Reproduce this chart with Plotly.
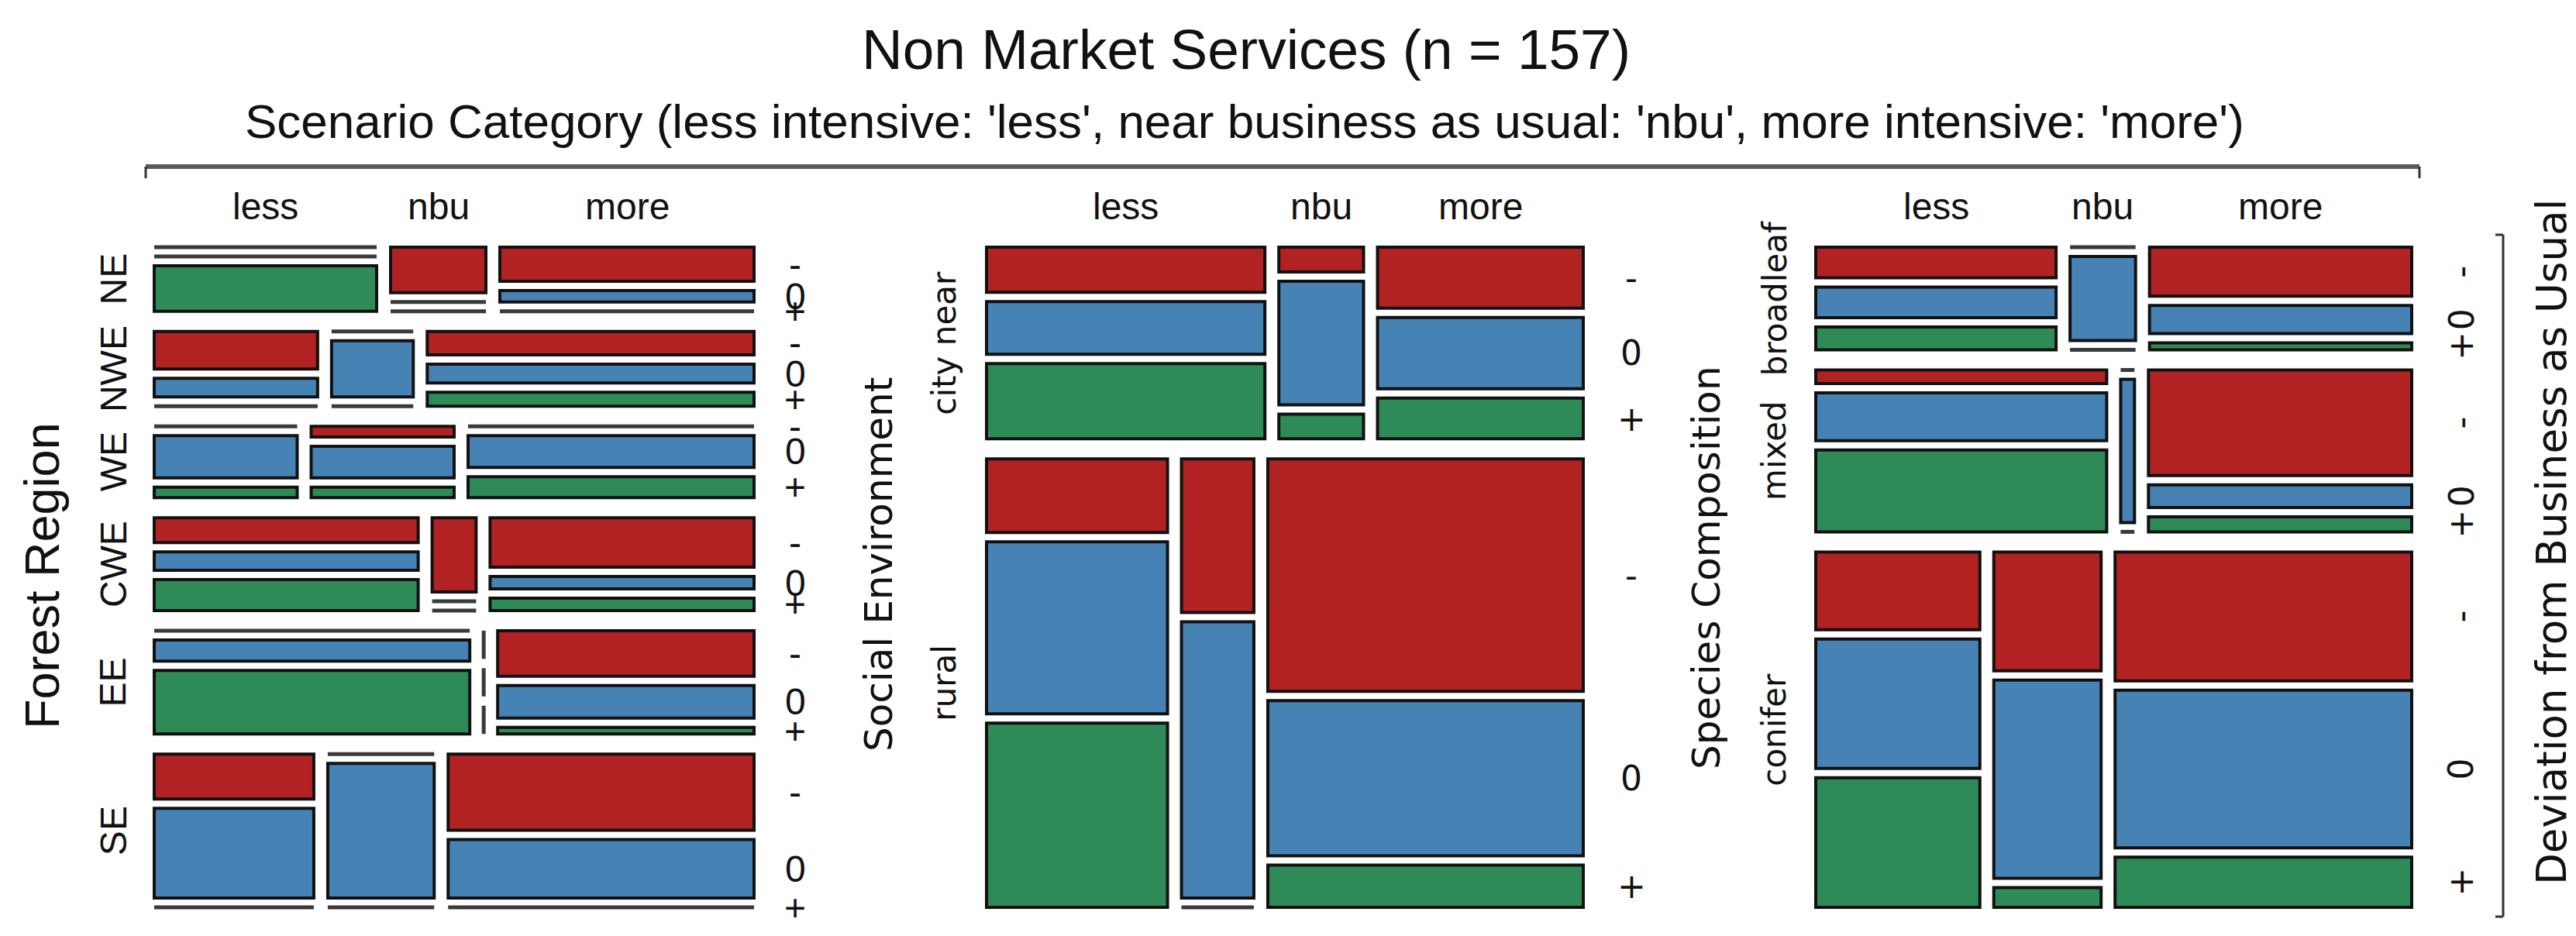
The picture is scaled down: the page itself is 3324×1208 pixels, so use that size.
import plotly.graph_objects as go

# ---------------- data (counts read from the mosaic) ----------------
deviation = ["-", "0", "+"]
scenarios = ["less", "nbu", "more"]

forest_regions = ["NE", "NWE", "WE", "CWE", "EE", "SE"]
forest_less = [[0, 0, 7], [4, 2, 0], [0, 4, 1], [4, 3, 5], [0, 4, 12], [4, 8, 0]]
forest_nbu = [[3, 0, 0], [0, 3, 0], [1, 3, 1], [2, 0, 0], [0, 0, 0], [0, 8, 0]]
forest_more = [[6, 2, 0], [5, 4, 3], [0, 6, 4], [8, 2, 2], [7, 5, 1], [13, 10, 0]]

social_groups = ["city near", "rural"]
social_less = [[6, 7, 10], [6, 14, 15]]
social_nbu = [[1, 5, 1], [5, 9, 0]]
social_more = [[6, 7, 4], [33, 22, 6]]

species_groups = ["broadleaf", "mixed", "conifer"]
species_less = [[4, 4, 3], [2, 7, 12], [6, 10, 10]]
species_nbu = [[0, 3, 0], [0, 1, 0], [6, 10, 1]]
species_more = [[7, 4, 1], [14, 3, 2], [18, 22, 7]]

dev_colors = ["#B22222", "#4682B4", "#2E8B57"]

# ---------------- layout constants ----------------
W, H = 3324, 1208
ROW_GAP, COL_GAP, DEV_GAP = 26, 18, 12
ARIAL = "Liberation Sans, Arial, sans-serif"
DEJAVU = "DejaVu Sans, sans-serif"


def split(total_len, counts, gap):
    n = len(counts)
    avail = total_len - gap * (n - 1)
    s = sum(counts)
    sizes = [avail / n] * n if s == 0 else [avail * c / s for c in counts]
    out, cur = [], 0.0
    for sz in sizes:
        out.append((cur, cur + sz))
        cur += sz + gap
    return out


shapes = []
annotations = []


def mosaic(x0, x1, y0, y1, groups, less, nbu, more, row_lab_x, row_font,
           dev_lab_x, dev_font, dev_angle):
    cells = [[less[i], nbu[i], more[i]] for i in range(len(groups))]
    row_tot = [sum(sum(c) for c in row) for row in cells]
    rows = split(y1 - y0, row_tot, ROW_GAP)
    for i, (ra, rb) in enumerate(rows):
        ya, yb = y0 + ra, y0 + rb
        col_tot = [sum(c) for c in cells[i]]
        cols = split(x1 - x0, col_tot, COL_GAP)
        annotations.append(dict(x=row_lab_x, y=(ya + yb) / 2, text=groups[i],
                                textangle=-90, showarrow=False,
                                font=dict(family=row_font[0], size=row_font[1], color="#111")))
        for j, (ca, cb) in enumerate(cols):
            xa, xb = x0 + ca, x0 + cb
            if i == 0:
                annotations.append(dict(x=(xa + xb) / 2, y=258, text=scenarios[j],
                                        showarrow=False,
                                        font=dict(family=ARIAL, size=48, color="#111")))
            devs = split(yb - ya, cells[i][j], DEV_GAP)
            for k, (da, db) in enumerate(devs):
                ta, tb = ya + da, ya + db
                if xb - xa < 0.5:
                    shapes.append(dict(type="line", xref="x", yref="y", x0=xa, x1=xa,
                                       y0=ta, y1=tb, line=dict(color="#3a3a3a", width=5)))
                elif tb - ta < 0.5:
                    shapes.append(dict(type="line", xref="x", yref="y", x0=xa, x1=xb,
                                       y0=ta, y1=ta, line=dict(color="#3a3a3a", width=5)))
                else:
                    shapes.append(dict(type="rect", xref="x", yref="y", x0=xa, x1=xb,
                                       y0=ta, y1=tb, fillcolor=dev_colors[k],
                                       line=dict(color="#111111", width=4)))
                if j == len(cols) - 1:
                    annotations.append(dict(x=dev_lab_x, y=(ta + tb) / 2, text=deviation[k],
                                            textangle=dev_angle, showarrow=False,
                                            font=dict(family=dev_font[0], size=dev_font[1], color="#111")))


Y0, Y1 = 311, 1163
mosaic(191, 965, Y0, Y1, forest_regions, forest_less, forest_nbu, forest_more,
       138, (ARIAL, 48), 1018, (ARIAL, 48), 0)
mosaic(1265, 2035, Y0, Y1, social_groups, social_less, social_nbu, social_more,
       1211, (DEJAVU, 42), 2097, (DEJAVU, 44), 0)
mosaic(2335, 3104, Y0, Y1, species_groups, species_less, species_nbu, species_more,
       2282, (DEJAVU, 42), 3168, (DEJAVU, 44), -90)

# brackets
shapes += [
    dict(type="line", xref="x", yref="y", x0=180, x1=3114, y0=207, y1=207,
         line=dict(color="#5a5a5a", width=6)),
    dict(type="line", xref="x", yref="y", x0=180, x1=180, y0=207, y1=222,
         line=dict(color="#333", width=3)),
    dict(type="line", xref="x", yref="y", x0=3114, x1=3114, y0=207, y1=222,
         line=dict(color="#333", width=3)),
    dict(type="line", xref="x", yref="y", x0=3222, x1=3222, y0=295, y1=1175,
         line=dict(color="#333", width=3)),
    dict(type="line", xref="x", yref="y", x0=3212, x1=3222, y0=295, y1=295,
         line=dict(color="#333", width=3)),
    dict(type="line", xref="x", yref="y", x0=3212, x1=3222, y0=1175, y1=1175,
         line=dict(color="#333", width=3)),
]

# titles
annotations += [
    dict(x=1600, y=55, text="Non Market Services (n = 157)", showarrow=False,
         font=dict(family=ARIAL, size=73, color="#111")),
    dict(x=1598, y=148,
         text="Scenario Category (less intensive: 'less', near business as usual: 'nbu', more intensive: 'more')",
         showarrow=False, font=dict(family=ARIAL, size=62, color="#111")),
    dict(x=46, y=735, text="Forest Region", textangle=-90, showarrow=False,
         font=dict(family=ARIAL, size=63, color="#111")),
    dict(x=1126, y=721, text="Social Environment", textangle=-90, showarrow=False,
         font=dict(family=DEJAVU, size=50, color="#111")),
    dict(x=2194, y=725, text="Species Composition", textangle=-90, showarrow=False,
         font=dict(family=DEJAVU, size=50, color="#111")),
    dict(x=3284, y=692, text="Deviation from Business as Usual", textangle=-90, showarrow=False,
         font=dict(family=DEJAVU, size=53, color="#111")),
]

fig = go.Figure()
fig.add_trace(go.Scatter(x=[0, W], y=[0, H], mode="markers",
                         marker=dict(opacity=0), hoverinfo="skip", showlegend=False))
fig.update_layout(
    width=W, height=H, margin=dict(l=0, r=0, t=0, b=0),
    paper_bgcolor="white", plot_bgcolor="white",
    xaxis=dict(range=[0, W], visible=False, fixedrange=True),
    yaxis=dict(range=[H, 0], visible=False, fixedrange=True),
    shapes=shapes, annotations=annotations, showlegend=False,
)
fig.write_html("out.html")
